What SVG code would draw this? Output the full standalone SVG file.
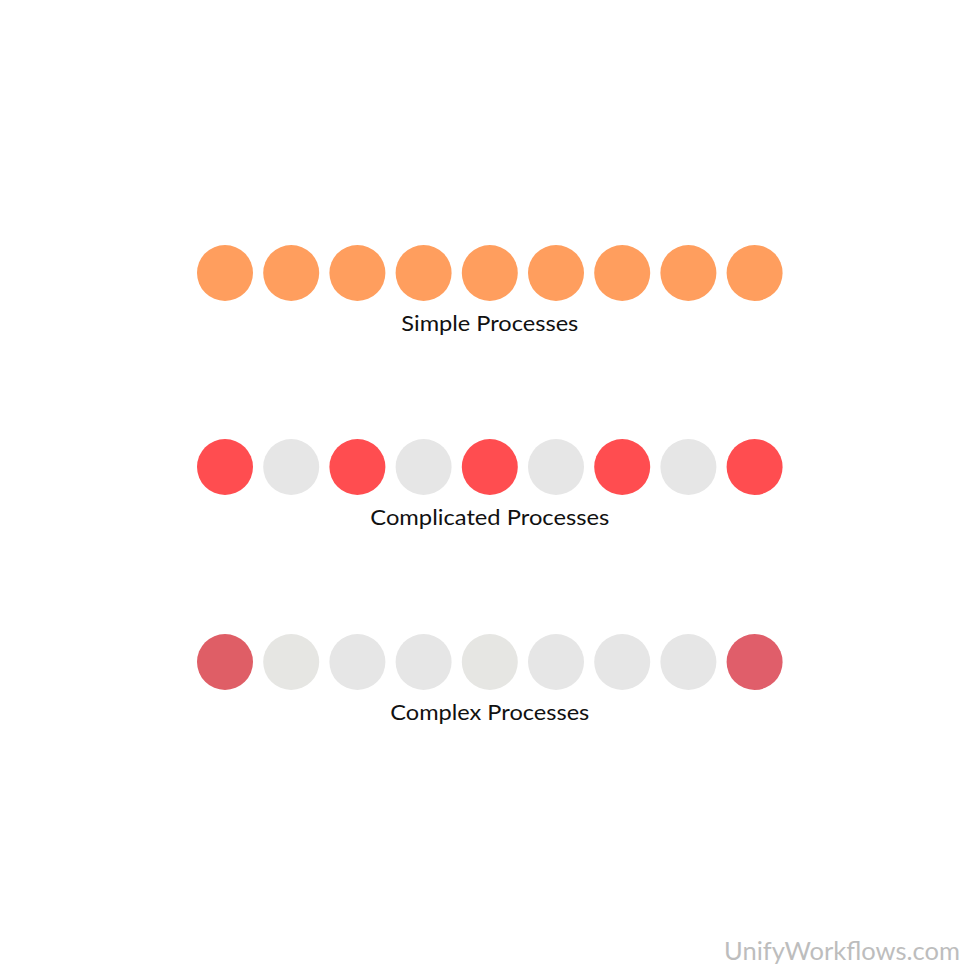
<svg xmlns="http://www.w3.org/2000/svg" width="980" height="980" viewBox="0 0 980 980">
<style>
.o{fill:#FF9E5E}.r{fill:#FF4D50}.g{fill:#E6E6E6}.g2{fill:#E6E6E3}.c{fill:#DF5E66}
.lbl{font-family:Lato,"Liberation Sans",sans-serif;font-size:22px;fill:#111;text-anchor:middle}
.wm{font-family:Lato,"Liberation Sans",sans-serif;font-size:25px;fill:#BDBDBD;text-anchor:end}
</style>
<rect width="980" height="980" fill="#FFFFFF"/>
<g id="simple">
<circle class="o" cx="225" cy="273" r="28"/><circle class="o" cx="291.2" cy="273" r="28"/><circle class="o" cx="357.4" cy="273" r="28"/><circle class="o" cx="423.6" cy="273" r="28"/><circle class="o" cx="489.8" cy="273" r="28"/><circle class="o" cx="556" cy="273" r="28"/><circle class="o" cx="622.2" cy="273" r="28"/><circle class="o" cx="688.4" cy="273" r="28"/><circle class="o" cx="754.6" cy="273" r="28"/>
<text class="lbl" x="489.8" y="331" textLength="177" lengthAdjust="spacingAndGlyphs">Simple Processes</text>
</g>
<g id="complicated">
<circle class="r" cx="225" cy="467" r="28"/><circle class="g" cx="291.2" cy="467" r="28"/><circle class="r" cx="357.4" cy="467" r="28"/><circle class="g" cx="423.6" cy="467" r="28"/><circle class="r" cx="489.8" cy="467" r="28"/><circle class="g" cx="556" cy="467" r="28"/><circle class="r" cx="622.2" cy="467" r="28"/><circle class="g" cx="688.4" cy="467" r="28"/><circle class="r" cx="754.6" cy="467" r="28"/>
<text class="lbl" x="489.8" y="525" textLength="239" lengthAdjust="spacingAndGlyphs">Complicated Processes</text>
</g>
<g id="complex">
<circle class="c" cx="225" cy="662" r="28"/><circle class="g2" cx="291.2" cy="662" r="28"/><circle class="g" cx="357.4" cy="662" r="28"/><circle class="g" cx="423.6" cy="662" r="28"/><circle class="g2" cx="489.8" cy="662" r="28"/><circle class="g" cx="556" cy="662" r="28"/><circle class="g" cx="622.2" cy="662" r="28"/><circle class="g" cx="688.4" cy="662" r="28"/><circle class="c" cx="754.6" cy="662" r="28" style="fill:#E05E6A"/>
<text class="lbl" x="489.8" y="720" textLength="199" lengthAdjust="spacingAndGlyphs">Complex Processes</text>
</g>
<g id="connectors"/>
<text class="wm" x="960" y="960" textLength="236" lengthAdjust="spacingAndGlyphs">UnifyWorkflows.com</text>
</svg>
